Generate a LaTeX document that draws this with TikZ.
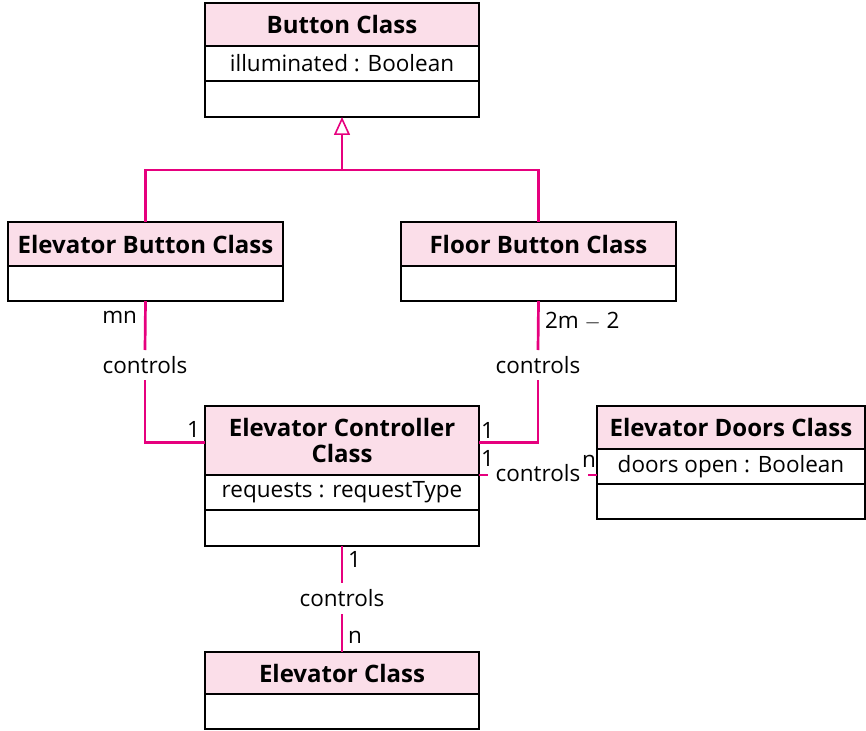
\documentclass[tikz,border=0pt]{standalone}
\usepackage{fontspec}
\setmainfont{Open Sans}
\usetikzlibrary{arrows.meta}
\definecolor{umlpink}{RGB}{230,0,126}
\definecolor{headfill}{RGB}{251,222,233}
\begin{document}
\begin{tikzpicture}[x=1pt,y=-1pt,
  box/.style={draw=black, line width=1.6pt, inner sep=0pt, outer sep=0pt},
  head/.style={box, fill=headfill, font=\bfseries\fontsize{24}{26}\selectfont, align=center},
  attr/.style={box, font=\fontsize{22.5}{26}\selectfont},
  assoc/.style={draw=umlpink, line width=2.7pt},
  lbl/.style={font=\fontsize{22.5}{26}\selectfont, inner sep=0pt, outer sep=0pt}
]
\useasboundingbox (0,0) rectangle (866,730);

% Button Class
\node[head, minimum width=274pt, minimum height=43pt] (bH) at (342,24.5) {Button Class};
\node[attr, minimum width=274pt, minimum height=35pt, anchor=north] (bA) at (bH.south) {illuminated : Boolean};
\node[attr, minimum width=274pt, minimum height=36pt, anchor=north] (bO) at (bA.south) {};

% Elevator Button Class
\node[head, minimum width=275pt, minimum height=44pt] (ebH) at (145.5,244) {Elevator Button Class};
\node[attr, minimum width=275pt, minimum height=35pt, anchor=north] (ebO) at (ebH.south) {};

% Floor Button Class
\node[head, minimum width=275pt, minimum height=44pt] (fbH) at (538.5,244) {Floor Button Class};
\node[attr, minimum width=275pt, minimum height=35pt, anchor=north] (fbO) at (fbH.south) {};

% Elevator Controller Class
\node[head, minimum width=274pt, minimum height=69pt] (cH) at (342,440.5) {Elevator Controller\\Class};
\node[attr, minimum width=274pt, minimum height=35pt, anchor=north] (cA) at (cH.south) {requests : requestType};
\node[attr, minimum width=274pt, minimum height=36pt, anchor=north] (cO) at (cA.south) {};

% Elevator Doors Class
\node[head, minimum width=268pt, minimum height=43pt] (dH) at (731,427.5) {Elevator Doors Class};
\node[attr, minimum width=268pt, minimum height=35pt, anchor=north] (dA) at (dH.south) {doors open : Boolean};
\node[attr, minimum width=268pt, minimum height=35pt, anchor=north] (dO) at (dA.south) {};

% Elevator Class
\node[head, minimum width=274pt, minimum height=42pt] (eH) at (342,673) {Elevator Class};
\node[attr, minimum width=274pt, minimum height=35pt, anchor=north] (eO) at (eH.south) {};

% Generalization
\coordinate (j) at (342,170);
\draw[assoc] (ebH.north) |- (j) -| (fbH.north);
\draw[assoc, -{Triangle[open, length=18pt, width=16pt, line width=1.6pt]}] (j) -- (bO.south);

% association labels
\node[lbl, minimum height=30pt] (c1) at (145,365) {controls};
\node[lbl, minimum height=30pt] (c2) at (538,365) {controls};
\node[lbl, minimum width=100pt] (c3) at (538,473) {controls};
\node[lbl, minimum height=31pt] (c4) at (342,598.5) {controls};

% associations
\draw[assoc] (ebO.south) -- (c1.north);
\draw[assoc] (c1.south) |- ([yshift=-2pt]cH.west);
\draw[assoc] (fbO.south) -- (c2.north);
\draw[assoc] (c2.south) |- ([yshift=-2pt]cH.east);
\draw[assoc] (cH.south east) -- (cH.south east -| c3.west);
\draw[assoc] (cH.south -| c3.east) -- (cH.south -| dA.west);
\draw[assoc] (cO.south) -- (c4.north);
\draw[assoc] (c4.south) -- (eH.north);

% multiplicities
\node[lbl, anchor=base east] (m1) at (137,323) {mn};
\node[lbl, anchor=base east] (m2) at (200,437) {1};
\node[lbl, anchor=base west] (m3) at (545,328) {2m $-$ 2};
\node[lbl, anchor=base west] (m4) at (481,438) {1};
\node[lbl, anchor=base west] (m5) at (481,466) {1};
\node[lbl, anchor=base east] (m6) at (596,467) {n};
\node[lbl, anchor=base west] (m7) at (348,567) {1};
\node[lbl, anchor=base west] (m8) at (348,643) {n};
\end{tikzpicture}
\end{document}
